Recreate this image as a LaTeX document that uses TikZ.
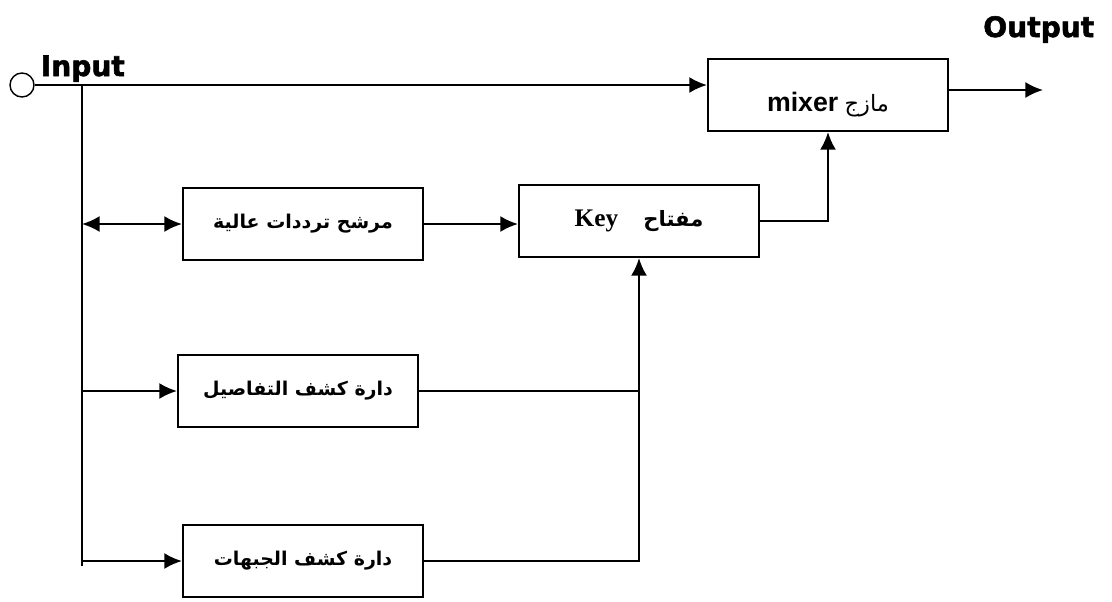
\documentclass[tikz,border=0pt]{standalone}
\usepackage{fontspec}
\setmainfont{Liberation Serif}
\setsansfont{Liberation Sans}
\newfontfamily\arabicfont[Script=Arabic]{DejaVu Sans}
\newfontfamily\heavyfont{DejaVu Sans}[BoldFeatures={FakeBold=2}]
\TeXXeTstate=1
\usetikzlibrary{arrows.meta, positioning}

\begin{document}
\begin{tikzpicture}[x=0.025cm, y=-0.025cm, line width=1.5pt,
                    >={Latex[length=4.4mm,width=4mm]}]
        % Setup the styles for the blocks and the labels
        \tikzset{block/.style={draw,
                               rectangle,
                               minimum width=6cm,
                               minimum height=1.8cm,
                               inner sep=0pt,
                               font=\fontsize{18}{21}\selectfont},
                 ar/.style={font=\arabicfont\bfseries\fontsize{13.5}{16}\selectfont},
                 title/.style={font=\heavyfont\bfseries\fontsize{20}{24}\selectfont}}
        \useasboundingbox (0,0) rectangle (1112,601);

        % Draw the blocks
        \node[circle, draw, line width=1pt, minimum size=0.6cm, inner sep=0pt] at (22, 85) (in) {};
        \node[block] at (828, 95)  (mixer)  {\raisebox{-0.4cm}[0pt][0pt]{{\sffamily\bfseries\fontsize{19}{22}\selectfont mixer} {\arabicfont\fontsize{16}{19}\selectfont\beginR مازج\endR}}};
        \node[block, ar] at (303, 224) (filter) {\beginR مرشح ترددات عالية\endR};
        \node[block] at (639, 221) (key)    {{\bfseries Key}\quad{\arabicfont\bfseries\fontsize{15}{18}\selectfont\beginR مفتاح\endR}};
        \node[block, ar] at (298, 391) (detail) {\beginR دارة كشف التفاصيل\endR};
        \node[block, ar] at (303, 561) (front)  {\beginR دارة كشف الجبهات\endR};

        % Labels for the terminals
        \node[title, anchor=base west] at (35, 76)   (inlabel)  {Input};
        \node[title, anchor=base east] at (1100, 37) (outlabel) {Output};

        % Input bus
        \coordinate (bus top) at (82, 85);
        \coordinate (bus end) at (82, 566);
        \coordinate (out) at (1043, 90);

        % Connect the blocks with arrows
        \draw[->] (in.east) -- (in.east -| mixer.west);
        \draw (bus top) -- (bus end);
        \draw[<->] (bus top |- filter) -- (filter.west);
        \draw[->] (bus top |- detail) -- (detail.west);
        \draw[->] (bus top |- front) -- (front.west);
        \draw[->] (filter.east) -- (filter.east -| key.west);
        \draw[->] (key.east) -| (mixer.south);
        \draw[->] (front.east) -| (key.south);
        \draw (detail.east) -- (detail.east -| key.south);
        \draw[->] (mixer.east |- out) -- (out);
\end{tikzpicture}
\end{document}
